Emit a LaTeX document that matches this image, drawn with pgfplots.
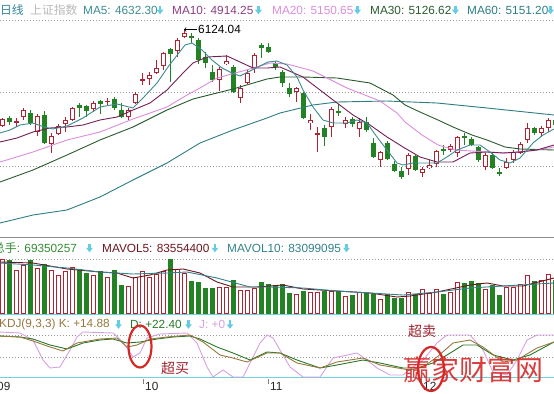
\documentclass[border=0pt]{standalone}
\usepackage{pgfplots}
\pgfplotsset{compat=1.18}
\usepackage{pgfplotstable}
\usepackage{fontspec}
\setmainfont{Liberation Sans}
\newfontfamily\cjk{Noto Sans CJK SC}
\definecolor{cred}{RGB}{175,35,50}
\definecolor{cgreen}{RGB}{35,130,35}
\definecolor{ma5}{RGB}{60,140,145}
\definecolor{ma10}{RGB}{115,30,85}
\definecolor{ma10t}{RGB}{140,60,130}
\definecolor{ma20}{RGB}{220,140,220}
\definecolor{ma30}{RGB}{40,90,45}
\definecolor{ma60}{RGB}{45,125,130}
\definecolor{vol5}{RGB}{110,20,30}
\definecolor{vol10}{RGB}{50,130,140}
\definecolor{kc}{RGB}{150,120,60}
\definecolor{dc}{RGB}{40,120,40}
\definecolor{jc}{RGB}{215,160,225}
\definecolor{arr}{RGB}{100,205,225}
\definecolor{cyanl}{RGB}{110,210,225}
\definecolor{hdrteal}{RGB}{50,130,150}
\definecolor{vgreen}{RGB}{50,140,50}
\definecolor{mk}{RGB}{215,40,40}
\newcommand\hf{\fontsize{11.8bp}{13bp}\selectfont}
\newcommand\ar{\tikz[baseline=-3bp]{\fill[arr] (-1.2bp,-0.5bp) rectangle (1.2bp,4bp); \fill[arr] (-3.4bp,0bp) -- (3.4bp,0bp) -- (0bp,-4.5bp) -- cycle;}}

% x = pixel column of candle, o h l c = pixel rows (top = 0), v = top of volume bar
\pgfplotstableread{
x o h l c v
2 126 118 127 119 259
16 122 118 127 121 270
23 117 108 120 110 265
37 132 114 136 116 268
51 144 133 153 136 270
58 134 124 135 126 275
65 124 117 132 120 271
72 120 107 121 108 267
93 109 101 112 103 275
107 102 98 105 100.5 277
128 117 108 120 110 286
135 103 92 104 94 277
142 80.5 73 85 79 271
149 79 72 85 75 277
156 73 60 74 68 274
163 66 52 70 53 271
177 51 38 57 40 269
184 37 30 38 33 273
219 80 67 91 69 287
226 64 55 65 61 287
240 98 85 103 88 290
247 83 70 84 73 290
254 68 53 73 55 288
296 92 87 102 88 294
310 123 114 130 120 292
317 134 127 152 133 292
331 127 107 137 109 291
345 124 117 128 120 296
359 129 118 137 122 292
380 160 151 167 152 299
408 169 153 175 155 292
422 173 167 177 169 289
429 168 160 169 165 293
436 164 150 167 151 289
450 150 144 152 146 292
457 153 136 157 137 282
485 167 153 170 155 289
506 168 158 169 162 287
513 160 150 163 152 287
520 153 142 154 144 284
527 140 123 143 128 275
541 133 126 137 128 280
548 128 118 132 120 274
}\tblup
\pgfplotstableread{
x o h l c v
9 118 116 125 122 260
30 113 110 125 123 260
44 115 111 144 143 264
79 105 103 117 108 269
86 106 105 117 111 273
100 101 100 114 104 271
114 99 97 110 108 270
121 110 103 118 117 285
170 49 48 82 54 259
191 36 33 43 38 281
198 40 38 64 60 282
205 57 52 68 63 288
212 72 65 82 80 288
233 67 65 93 92 280
261 45 43 58 48 282
268 47 43 53 52 284
275 63 61 70 67 285
282 72 70 87 83 284
289 88 83 97 94 293
303 93 92 119 118 291
324 128 125 146 137 291
338 111 104 116 113 291
352 119 117 127 124 295
366 122 117 132 130 293
373 143 138 158 157 294
387 143 141 160 159 294
394 164 161 172 171 298
401 171 167 179 177 298
415 156 155 171 170 294
443 149 145 155 151 294
464 136 133 145 138 283
471 139 137 146 145 281
478 147 146 162 160 283
492 155 153 169 168 285
499 172 168 176 174 295
534 128 127 135 133 281
555 120 118 127 125 280
}\tbldn

\pgfplotsset{
  ebar/.style 2 args={draw=none, mark=none, error bars/.cd, y dir=both, y explicit,
    error mark=none, error bar style={draw=#1, line width=#2, solid}},
}

\begin{document}
\begin{tikzpicture}
\begin{axis}[at={(0,0)}, anchor=south west, width=554bp, height=394bp,
  scale only axis, hide axis, xmin=0, xmax=554, ymin=0, ymax=394,
  y dir=reverse, clip=true]

% grid lines
\draw[gray!80, dash pattern=on 1bp off 2bp, line width=0.7bp] (axis cs:0,20) -- (axis cs:554,20);
\draw[gray!80, dash pattern=on 1bp off 2bp, line width=0.7bp] (axis cs:0,92) -- (axis cs:554,92);
\draw[gray!80, dash pattern=on 1bp off 2bp, line width=0.7bp] (axis cs:0,166) -- (axis cs:554,166);
\draw[gray!80, dash pattern=on 1bp off 2bp, line width=0.7bp] (axis cs:0,259) -- (axis cs:554,259);
\draw[gray!80, dash pattern=on 1bp off 2bp, line width=0.7bp] (axis cs:0,335) -- (axis cs:554,335);
\draw[gray!80, dash pattern=on 1bp off 2bp, line width=0.7bp] (axis cs:0,357) -- (axis cs:554,357);
\draw[gray!90, line width=1bp] (axis cs:0,237) -- (axis cs:554,237);
\draw[cyanl, line width=1.2bp] (axis cs:0,314.6) -- (axis cs:554,314.6);
\draw[cyanl, line width=1.2bp] (axis cs:0,377.6) -- (axis cs:554,377.6);

% candles: wicks
\addplot[ebar={cred}{1bp}] table[x=x, y expr={(\thisrow{h}+\thisrow{l})/2}, y error expr={(\thisrow{l}-\thisrow{h})/2}] {\tblup};
\addplot[ebar={cgreen}{1bp}] table[x=x, y expr={(\thisrow{h}+\thisrow{l})/2}, y error expr={(\thisrow{l}-\thisrow{h})/2}] {\tbldn};
% bodies
\addplot[ebar={cred}{5bp}] table[x=x, y expr={(\thisrow{o}+\thisrow{c})/2}, y error expr={max(abs(\thisrow{o}-\thisrow{c})/2,0.6)}] {\tblup};
\addplot[ebar={white}{3bp}] table[x=x, y expr={(\thisrow{o}+\thisrow{c})/2}, y error expr={max(abs(\thisrow{o}-\thisrow{c})/2-1,0)}] {\tblup};
\addplot[ebar={cgreen}{5bp}] table[x=x, y expr={(\thisrow{o}+\thisrow{c})/2}, y error expr={max(abs(\thisrow{o}-\thisrow{c})/2,0.6)}] {\tbldn};

% volume bars
\addplot[ebar={cred}{5bp}] table[x=x, y expr={(\thisrow{v}+314)/2}, y error expr={(314-\thisrow{v})/2}] {\tblup};
\addplot[ebar={white}{3bp}] table[x=x, y expr={(\thisrow{v}+314)/2}, y error expr={(314-\thisrow{v})/2-1}] {\tblup};
\addplot[ebar={cgreen}{5bp}] table[x=x, y expr={(\thisrow{v}+314)/2}, y error expr={(314-\thisrow{v})/2}] {\tbldn};

% moving averages
\addplot[ma60, line width=0.9bp, mark=none] coordinates {(0,223) (33,215) (67,210) (100,197) (133,180) (167,163) (200,143) (233,130) (267,118) (280,113) (313,105) (337,102) (387,101) (437,103) (487,108) (554,115)};
\addplot[ma30, line width=0.9bp, mark=none] coordinates {(0,182) (33,170) (67,155) (100,140) (133,127) (167,110) (193,99) (233,89) (267,79) (280,77) (303,77) (337,78) (370,83) (393,95) (405,105) (420,112) (438,120) (453,127) (472,135) (487,140) (505,147) (520,149) (554,150)};
\addplot[ma20, line width=0.9bp, mark=none] coordinates {(0,162) (33,152) (67,140) (100,132) (133,119) (167,107) (187,95) (200,88) (217,78) (250,69) (270,63) (287,64) (313,71) (347,88) (380,101) (397,113) (405,122) (422,135) (438,145) (455,150) (505,153) (537,150) (554,147)};
\addplot[ma10, line width=0.9bp, mark=none] coordinates {(0,142) (17,138) (33,132) (50,128) (67,127) (83,125) (100,120) (117,117) (133,110) (150,103) (167,90) (183,73) (193,63) (207,57) (227,56) (240,62) (253,68) (267,68) (280,67) (287,70) (303,77) (320,90) (337,103) (353,115) (370,125) (387,137) (403,147) (420,157) (437,162) (453,162) (470,153) (487,152) (503,153) (520,152) (537,150) (554,145)};
\addplot[ma5, line width=0.9bp, mark=none] coordinates {(0,133) (10,130) (20,125) (33,123) (44,127) (53,129) (67,126) (83,118) (100,107) (117,104) (133,108) (143,98) (157,83) (168,67) (185,45) (192,43) (202,50) (212,60) (222,68) (232,73) (240,76) (248,72) (258,67) (268,62) (277,61) (287,65) (297,77) (303,90) (313,107) (323,120) (333,123) (347,123) (357,120) (367,123) (377,137) (387,150) (397,163) (403,165) (413,163) (423,163) (437,163) (447,157) (457,150) (470,145) (480,145) (490,152) (500,160) (510,163) (520,158) (533,143) (543,135) (554,129)};

% volume averages
\addplot[vol5, line width=0.9bp, mark=none] coordinates {(0,262) (33,263) (67,269) (100,272) (117,273) (133,278) (150,275) (167,270) (183,269) (200,273) (217,282) (233,287) (257,287) (283,285) (303,289) (337,291) (370,293) (397,297) (410,296) (437,292) (470,285) (487,283) (503,286) (523,286) (554,278)};
\addplot[vol10, line width=0.9bp, mark=none] coordinates {(0,263) (33,265) (67,268) (100,272) (133,274) (167,273) (187,272) (217,278) (250,287) (270,287) (303,288) (337,291) (370,293) (403,295) (437,292) (470,288) (503,286) (554,283)};

% KDJ
\addplot[jc, line width=0.9bp, mark=none] coordinates {(0,332) (20,333) (33,340) (43,360) (50,368) (60,367) (70,350) (77,337) (83,332) (113,333) (123,342) (133,357) (140,353) (147,338) (160,334) (187,333) (197,343) (207,367) (213,377) (223,370) (233,377) (243,377) (260,343) (267,335) (273,338) (280,350) (290,367) (303,377) (320,377) (333,358) (357,353) (367,360) (377,368) (390,375) (403,375) (413,367) (423,360) (437,343) (447,335) (470,335) (483,350) (493,372) (507,375) (517,360) (527,340) (537,335) (554,335)};
\addplot[dc, line width=0.9bp, mark=none] coordinates {(0,336) (20,337) (33,339) (50,345) (67,349) (83,343) (100,340) (113,339) (127,343) (140,342) (157,339) (173,337) (190,336) (200,339) (217,347) (233,353) (250,360) (267,352) (280,353) (297,360) (320,368) (337,365) (363,360) (380,363) (403,368) (417,368) (433,363) (447,355) (463,345) (477,345) (493,355) (513,360) (530,355) (554,342)};
\addplot[kc, line width=0.9bp, mark=none] coordinates {(0,336) (20,337) (33,341) (50,347) (63,351) (77,343) (100,339) (117,338) (127,347) (137,345) (150,339) (167,337) (190,335) (203,342) (220,355) (233,358) (247,362) (267,353) (280,353) (297,363) (320,368) (337,362) (363,358) (380,365) (410,370) (423,367) (437,357) (453,343) (470,340) (483,347) (503,362) (517,360) (537,348) (554,342)};

% headers
\node[anchor=west, inner sep=0pt, text=hdrteal] at (axis cs:0,10) {\cjk\hf 日线};
\node[anchor=west, inner sep=0pt, text=gray!55] at (axis cs:30,10) {\cjk\hf 上证指数};
\node[anchor=west, inner sep=0pt, text=ma5] at (axis cs:83,10) {\hf MA5: 4632.30};
\node[inner sep=0pt] at (axis cs:160,10) {\ar};
\node[anchor=west, inner sep=0pt, text=ma10t] at (axis cs:172,10) {\hf MA10: 4914.25};
\node[inner sep=0pt] at (axis cs:258.5,10) {\ar};
\node[anchor=west, inner sep=0pt, text=ma20] at (axis cs:272,10) {\hf MA20: 5150.65};
\node[inner sep=0pt] at (axis cs:357.5,10) {\ar};
\node[anchor=west, inner sep=0pt, text=ma30] at (axis cs:370,10) {\hf MA30: 5126.62};
\node[inner sep=0pt] at (axis cs:455.5,10) {\ar};
\node[anchor=west, inner sep=0pt, text=ma60] at (axis cs:467,10) {\hf MA60: 5151.20};
\node[inner sep=0pt] at (axis cs:550.5,10) {\ar};

\draw[<-, black, line width=0.7bp] (axis cs:184,29.5) -- (axis cs:197,29.5);
\node[anchor=west, inner sep=0pt] at (axis cs:198,29.5) {\hf 6124.04};

\node[anchor=west, inner sep=0pt, text=vgreen] at (axis cs:-7,248) {\hf{\cjk 总手}: 69350257};
\node[inner sep=0pt] at (axis cs:89.5,248) {\ar};
\node[anchor=west, inner sep=0pt, text=vol5] at (axis cs:102,248) {\hf MAVOL5: 83554400};
\node[inner sep=0pt] at (axis cs:215,248) {\ar};
\node[anchor=west, inner sep=0pt, text=vol10] at (axis cs:227,248) {\hf MAVOL10: 83099095};
\node[inner sep=0pt] at (axis cs:346.5,248) {\ar};

\node[anchor=west, inner sep=0pt, text=kc] at (axis cs:-1,324.5) {\hf KDJ(9,3,3) K: +14.88};
\node[inner sep=0pt] at (axis cs:118.5,324.5) {\ar};
\node[anchor=west, inner sep=0pt, text=dc] at (axis cs:130,324.5) {\hf D: +22.40};
\node[inner sep=0pt] at (axis cs:188.5,324.5) {\ar};
\node[anchor=west, inner sep=0pt, text=jc] at (axis cs:199,324.5) {\hf J: +0};
\node[inner sep=0pt] at (axis cs:230,324.5) {\ar};

% dates
\node[anchor=west, inner sep=0pt, text=black!85] at (axis cs:-3,386) {\hf 09};
\draw[gray, line width=0.8bp] (axis cs:143,379) -- (axis cs:143,384);
\node[anchor=west, inner sep=0pt, text=black!85] at (axis cs:145,386) {\hf 10};
\draw[gray, line width=0.8bp] (axis cs:268,379) -- (axis cs:268,384);
\node[anchor=west, inner sep=0pt, text=black!85] at (axis cs:270,386) {\hf 11};
\draw[gray, line width=0.8bp] (axis cs:421,379) -- (axis cs:421,384);
\node[anchor=west, inner sep=0pt, text=black!85] at (axis cs:423,386) {\hf 12};

% annotations
\draw[mk, line width=2.2bp] (axis cs:140,346.5) ellipse [x radius=11.5bp, y radius=21bp];
\node[text=cred!90!black] at (axis cs:175,368) {\cjk\fontsize{14bp}{16bp}\selectfont 超买};
\node[text=cred!90!black] at (axis cs:422,331) {\cjk\fontsize{14bp}{16bp}\selectfont 超卖};
\node[text=mk, opacity=0.9] at (axis cs:473,370) {\cjk\fontsize{28bp}{30bp}\selectfont 赢家财富网};
\draw[mk, line width=2.2bp] (axis cs:431,369) ellipse [x radius=13bp, y radius=22bp];
\end{axis}
\pgfresetboundingbox
\useasboundingbox (0,0) rectangle (554bp,394bp);
\end{tikzpicture}
\end{document}
